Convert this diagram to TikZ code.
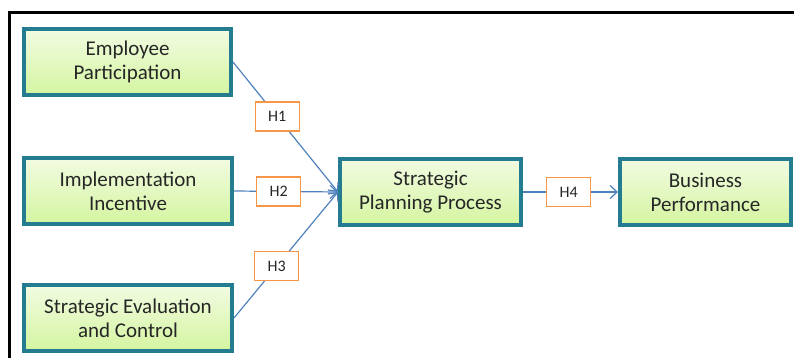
\documentclass[tikz,border=0pt]{standalone}
\usepackage{fontspec}
\setmainfont{Carlito}
\usetikzlibrary{arrows.meta,shadows}

\definecolor{boxline}{RGB}{36,124,145}
\definecolor{boxtop}{RGB}{242,251,226}
\definecolor{boxbottom}{RGB}{212,245,160}
\definecolor{linkblue}{RGB}{79,129,189}
\definecolor{hypline}{RGB}{247,150,70}

\tikzset{
  construct/.style={draw=boxline, line width=2pt, top color=boxtop, bottom color=boxbottom,
    minimum height=33pt, align=center, text=black!85, font=\fontsize{10.5}{12}\selectfont,
    drop shadow={shadow xshift=1pt, shadow yshift=-1.2pt, opacity=0.35}},
  hyp/.style={draw=hypline, fill=white, line width=0.6pt, minimum width=22pt,
    minimum height=14.5pt, inner sep=1pt, text=black!85, font=\fontsize{8}{9}\selectfont},
  link/.style={draw=linkblue, line width=0.6pt, -{Straight Barb[length=3.5pt,width=6.5pt]}}
}

\begin{document}
\begin{tikzpicture}[x=0.5pt, y=-0.5pt]
\useasboundingbox (0,0) rectangle (794,358);
\draw[line width=1.5pt] (9,358) -- (9,13) -- (794,13);

\node[construct, minimum width=103.5pt] (emp) at (127.5,62) {Employee\\Participation};
\node[construct, minimum width=104pt] (inc) at (128,191) {Implementation\\Incentive};
\node[construct, minimum width=104pt] (eval) at (128,318) {Strategic Evaluation\\and Control};
\node[construct, minimum width=90.5pt] (spp) at (430.5,192) {Strategic\\Planning Process};
\node[construct, minimum width=85.5pt] (perf) at (705.5,192) {Business\\Performance};

\foreach \n/\h/\p in {emp/1/0.42, inc/2/0.43, eval/3/0.41}
    \draw[link] (\n.east) -- node[hyp, pos=\p] (h\h) {H\h} (spp.west);
\draw[link] (spp.east) -- node[hyp, pos=0.48] (h4) {H4} (perf.west);
\end{tikzpicture}
\end{document}
